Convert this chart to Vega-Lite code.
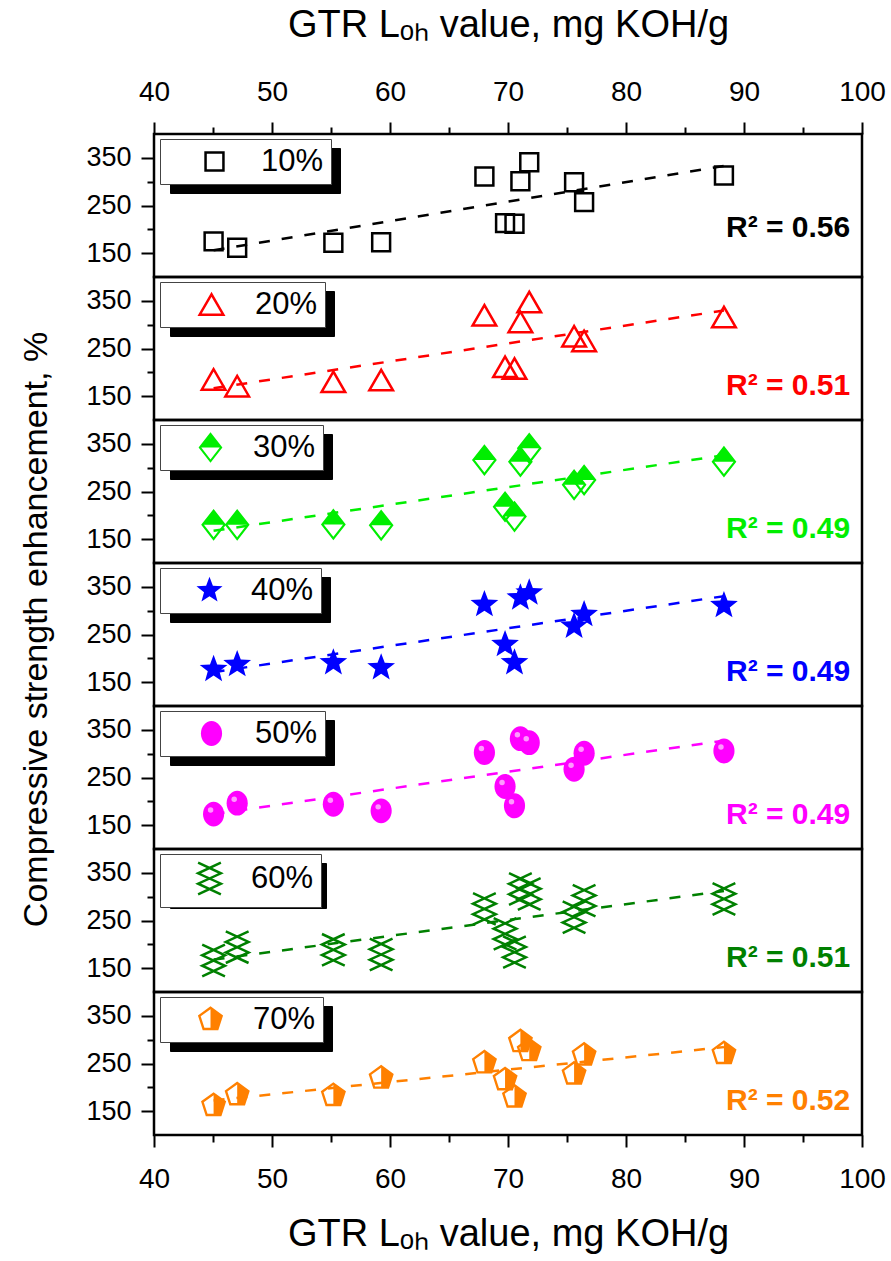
{
  "$schema": "https://vega.github.io/schema/vega-lite/v6.json",
  "padding": {"left": 19, "top": 4, "right": 0, "bottom": 0},
  "background": "white",
  "bounds": "flush",
  "title": {"text": "Compressive strength enhancement, %", "orient": "left", "anchor": "middle", "fontSize": 34, "fontWeight": "normal", "font": "Liberation Sans", "color": "black", "offset": 31},
  "config": {
    "font": "Liberation Sans",
    "view": {"stroke": "black", "strokeWidth": 2.5},
    "axis": {"labelColor": "black", "titleColor": "black", "tickColor": "black", "labelFont": "Liberation Sans", "titleFont": "Liberation Sans"},
    "legend": {"labelFont": "Liberation Sans"}
  },
  "datasets": {
    "pts": [
      {"g": "10%", "x": 45.05, "y": 174.7}, {"g": "10%", "x": 47.05, "y": 161.5}, {"g": "10%", "x": 55.2, "y": 172}, {"g": "10%", "x": 59.25, "y": 173}, {"g": "10%", "x": 68.0, "y": 310.7}, {"g": "10%", "x": 69.75, "y": 213}, {"g": "10%", "x": 70.55, "y": 211.7}, {"g": "10%", "x": 71.05, "y": 300.8}, {"g": "10%", "x": 71.8, "y": 340.6}, {"g": "10%", "x": 75.6, "y": 298.7}, {"g": "10%", "x": 76.45, "y": 257}, {"g": "10%", "x": 88.3, "y": 312.8},
      {"g": "20%", "x": 45.05, "y": 185}, {"g": "20%", "x": 47.05, "y": 171}, {"g": "20%", "x": 55.2, "y": 180}, {"g": "20%", "x": 59.25, "y": 183.7}, {"g": "20%", "x": 68.0, "y": 319.7}, {"g": "20%", "x": 69.75, "y": 211.5}, {"g": "20%", "x": 70.55, "y": 208}, {"g": "20%", "x": 71.05, "y": 305.7}, {"g": "20%", "x": 71.8, "y": 347.5}, {"g": "20%", "x": 75.6, "y": 275.7}, {"g": "20%", "x": 76.45, "y": 265.9}, {"g": "20%", "x": 88.3, "y": 316},
      {"g": "30%", "x": 45.05, "y": 180}, {"g": "30%", "x": 47.05, "y": 180}, {"g": "30%", "x": 55.2, "y": 181}, {"g": "30%", "x": 59.25, "y": 179}, {"g": "30%", "x": 68.0, "y": 316}, {"g": "30%", "x": 69.75, "y": 218}, {"g": "30%", "x": 70.55, "y": 197.5}, {"g": "30%", "x": 71.05, "y": 312.5}, {"g": "30%", "x": 71.8, "y": 340.5}, {"g": "30%", "x": 75.6, "y": 264}, {"g": "30%", "x": 76.45, "y": 274}, {"g": "30%", "x": 88.3, "y": 312.5},
      {"g": "40%", "x": 45.05, "y": 176.8}, {"g": "40%", "x": 47.05, "y": 187}, {"g": "40%", "x": 55.2, "y": 190.8}, {"g": "40%", "x": 59.25, "y": 180.3}, {"g": "40%", "x": 68.0, "y": 312.8}, {"g": "40%", "x": 69.75, "y": 229}, {"g": "40%", "x": 70.55, "y": 190.8}, {"g": "40%", "x": 71.05, "y": 326.8}, {"g": "40%", "x": 71.8, "y": 337.2}, {"g": "40%", "x": 75.6, "y": 267.4}, {"g": "40%", "x": 76.45, "y": 291.8}, {"g": "40%", "x": 88.3, "y": 310.7},
      {"g": "50%", "x": 45.05, "y": 173.2}, {"g": "50%", "x": 47.05, "y": 196.2}, {"g": "50%", "x": 55.2, "y": 194}, {"g": "50%", "x": 59.25, "y": 180}, {"g": "50%", "x": 68.0, "y": 302.3}, {"g": "50%", "x": 69.75, "y": 231.2}, {"g": "50%", "x": 70.55, "y": 190.6}, {"g": "50%", "x": 71.05, "y": 331.5}, {"g": "50%", "x": 71.8, "y": 323.1}, {"g": "50%", "x": 75.6, "y": 267.4}, {"g": "50%", "x": 76.45, "y": 300.8}, {"g": "50%", "x": 88.3, "y": 305.6},
      {"g": "60%", "x": 45.05, "y": 166}, {"g": "60%", "x": 47.05, "y": 194}, {"g": "60%", "x": 55.2, "y": 188.5}, {"g": "60%", "x": 59.25, "y": 178.7}, {"g": "60%", "x": 68.0, "y": 274.3}, {"g": "60%", "x": 69.75, "y": 222}, {"g": "60%", "x": 70.55, "y": 183.7}, {"g": "60%", "x": 71.05, "y": 316}, {"g": "60%", "x": 71.8, "y": 305.6}, {"g": "60%", "x": 75.6, "y": 256.8}, {"g": "60%", "x": 76.45, "y": 291.6}, {"g": "60%", "x": 88.3, "y": 295.2},
      {"g": "70%", "x": 45.05, "y": 162}, {"g": "70%", "x": 47.05, "y": 184.5}, {"g": "70%", "x": 55.2, "y": 183}, {"g": "70%", "x": 59.25, "y": 219.5}, {"g": "70%", "x": 68.0, "y": 251.5}, {"g": "70%", "x": 69.75, "y": 216}, {"g": "70%", "x": 70.55, "y": 179.7}, {"g": "70%", "x": 71.05, "y": 296}, {"g": "70%", "x": 71.8, "y": 277}, {"g": "70%", "x": 75.6, "y": 228}, {"g": "70%", "x": 76.45, "y": 267.8}, {"g": "70%", "x": 88.3, "y": 271}
    ],
    "lab": [
      {"g": "10%", "r2": "R² = 0.56"}, {"g": "20%", "r2": "R² = 0.51"}, {"g": "30%", "r2": "R² = 0.49"}, {"g": "40%", "r2": "R² = 0.49"}, {"g": "50%", "r2": "R² = 0.49"}, {"g": "60%", "r2": "R² = 0.51"}, {"g": "70%", "r2": "R² = 0.52"}
    ]
  },
  "resolve": {"scale": {"shape": "independent", "size": "independent", "x": "independent", "y": "independent"}, "legend": {"shape": "independent", "size": "independent"}},
  "spacing": 0,
  "vconcat": [
    {
      "width": 708, "height": 143,
      "layer": [
        {"data": {"name": "pts"}, "transform": [{"filter": "datum.g == '10%'"}, {"regression": "y", "on": "x"}],
          "mark": {"type": "line", "color": "#000000", "strokeWidth": 2.5, "strokeDash": [11, 12]},
          "encoding": {
            "x": {"field": "x", "type": "quantitative", "scale": {"domain": [40, 100], "nice": false, "zero": false},
              "axis": {"orient": "top", "values": [40,45,50,55,60,65,70,75,80,85,90,95,100], "labelExpr": "datum.value % 10 == 0 ? datum.label : ''", "tickSize": {"condition": {"test": "datum.value % 10 == 0", "value": 12}, "value": 7}, "tickWidth": 2, "domain": false, "grid": false, "labelFontSize": 28, "labelPadding": 16, "labelFlush": false, "labelOverlap": false, "title": "GTR Lₒₕ value, mg KOH/g", "titleFontSize": 38, "titleFontWeight": "normal", "titlePadding": 34}},
            "y": {"field": "y", "type": "quantitative", "scale": {"domain": [100, 400], "nice": false, "zero": false},
              "axis": {"values": [150,200,250,300,350], "labelExpr": "datum.value % 100 == 50 ? datum.label : ''", "tickSize": {"condition": {"test": "datum.value % 100 == 50", "value": 13}, "value": 7}, "tickWidth": 2, "domain": false, "grid": false, "labelFontSize": 27, "labelPadding": 10, "labelOverlap": false, "title": null}}
          }},
        {"data": {"name": "pts"}, "transform": [{"filter": "datum.g == '10%'"}],
          "mark": {"type": "point", "filled": false, "color": "#000000", "size": 320, "strokeWidth": 2.5, "opacity": 1},
          "encoding": {
            "x": {"field": "x", "type": "quantitative", "scale": {"domain": [40, 100], "nice": false, "zero": false},
              "axis": {"orient": "top", "values": [40,45,50,55,60,65,70,75,80,85,90,95,100], "labelExpr": "datum.value % 10 == 0 ? datum.label : ''", "tickSize": {"condition": {"test": "datum.value % 10 == 0", "value": 12}, "value": 7}, "tickWidth": 2, "domain": false, "grid": false, "labelFontSize": 28, "labelPadding": 16, "labelFlush": false, "labelOverlap": false, "title": "GTR Lₒₕ value, mg KOH/g", "titleFontSize": 38, "titleFontWeight": "normal", "titlePadding": 34}},
            "y": {"field": "y", "type": "quantitative", "scale": {"domain": [100, 400], "nice": false, "zero": false},
              "axis": {"values": [150,200,250,300,350], "labelExpr": "datum.value % 100 == 50 ? datum.label : ''", "tickSize": {"condition": {"test": "datum.value % 100 == 50", "value": 13}, "value": 7}, "tickWidth": 2, "domain": false, "grid": false, "labelFontSize": 27, "labelPadding": 10, "labelOverlap": false, "title": null}},
            "shape": {"field": "g", "type": "nominal", "scale": {"range": ["square"]},
              "legend": {"title": null, "orient": "none", "legendX": 6, "legendY": 5, "fillColor": "white", "strokeColor": "#444444", "padding": 7, "symbolOffset": 32, "labelOffset": 31, "labelFontSize": 31, "labelColor": "black", "symbolSize": 320, "symbolStrokeWidth": 2.5, "symbolStrokeColor": "#000000", "symbolFillColor": "transparent", "zindex": 2}}
          }},
        {"data": {"name": "lab"}, "transform": [{"filter": "datum.g == '10%'"}],
          "mark": {"type": "text", "align": "right", "baseline": "middle", "fontWeight": "bold", "color": "#000000"},
          "encoding": {
            "x": {"datum": 99, "type": "quantitative", "scale": {"domain": [40, 100], "nice": false, "zero": false},
              "axis": {"orient": "top", "values": [40,45,50,55,60,65,70,75,80,85,90,95,100], "labelExpr": "datum.value % 10 == 0 ? datum.label : ''", "tickSize": {"condition": {"test": "datum.value % 10 == 0", "value": 12}, "value": 7}, "tickWidth": 2, "domain": false, "grid": false, "labelFontSize": 28, "labelPadding": 16, "labelFlush": false, "labelOverlap": false, "title": "GTR Lₒₕ value, mg KOH/g", "titleFontSize": 38, "titleFontWeight": "normal", "titlePadding": 34}},
            "y": {"datum": 202, "type": "quantitative", "scale": {"domain": [100, 400], "nice": false, "zero": false},
              "axis": {"values": [150,200,250,300,350], "labelExpr": "datum.value % 100 == 50 ? datum.label : ''", "tickSize": {"condition": {"test": "datum.value % 100 == 50", "value": 13}, "value": 7}, "tickWidth": 2, "domain": false, "grid": false, "labelFontSize": 27, "labelPadding": 10, "labelOverlap": false, "title": null}},
            "text": {"field": "r2"},
            "size": {"field": "g", "type": "ordinal", "scale": {"range": [30, 30]},
              "legend": {"title": null, "orient": "none", "legendX": 16, "legendY": 14, "fillColor": "black", "strokeColor": "black", "padding": 7, "symbolOffset": 32, "labelOffset": 93, "labelExpr": "''", "labelFontSize": 31, "labelColor": "black", "symbolFillColor": "black", "symbolStrokeColor": "black", "zindex": 1}}
          }}
      ]
    },
    {
      "width": 708, "height": 143,
      "layer": [
        {"data": {"name": "pts"}, "transform": [{"filter": "datum.g == '20%'"}, {"regression": "y", "on": "x"}],
          "mark": {"type": "line", "color": "#ff0000", "strokeWidth": 2.5, "strokeDash": [11, 12]},
          "encoding": {
            "x": {"field": "x", "type": "quantitative", "scale": {"domain": [40, 100], "nice": false, "zero": false}, "axis": null},
            "y": {"field": "y", "type": "quantitative", "scale": {"domain": [100, 400], "nice": false, "zero": false},
              "axis": {"values": [150,200,250,300,350], "labelExpr": "datum.value % 100 == 50 ? datum.label : ''", "tickSize": {"condition": {"test": "datum.value % 100 == 50", "value": 13}, "value": 7}, "tickWidth": 2, "domain": false, "grid": false, "labelFontSize": 27, "labelPadding": 10, "labelOverlap": false, "title": null}}
          }},
        {"data": {"name": "pts"}, "transform": [{"filter": "datum.g == '20%'"}],
          "mark": {"type": "point", "filled": false, "color": "#ff0000", "size": 560, "strokeWidth": 2.5, "opacity": 1},
          "encoding": {
            "x": {"field": "x", "type": "quantitative", "scale": {"domain": [40, 100], "nice": false, "zero": false}, "axis": null},
            "y": {"field": "y", "type": "quantitative", "scale": {"domain": [100, 400], "nice": false, "zero": false},
              "axis": {"values": [150,200,250,300,350], "labelExpr": "datum.value % 100 == 50 ? datum.label : ''", "tickSize": {"condition": {"test": "datum.value % 100 == 50", "value": 13}, "value": 7}, "tickWidth": 2, "domain": false, "grid": false, "labelFontSize": 27, "labelPadding": 10, "labelOverlap": false, "title": null}},
            "shape": {"field": "g", "type": "nominal", "scale": {"range": ["triangle-up"]},
              "legend": {"title": null, "orient": "none", "legendX": 6, "legendY": 5, "fillColor": "white", "strokeColor": "#444444", "padding": 7, "symbolOffset": 29, "labelOffset": 28, "labelFontSize": 31, "labelColor": "black", "symbolSize": 560, "symbolStrokeWidth": 2.5, "symbolStrokeColor": "#ff0000", "symbolFillColor": "transparent", "zindex": 2}}
          }},
        {"data": {"name": "lab"}, "transform": [{"filter": "datum.g == '20%'"}],
          "mark": {"type": "text", "align": "right", "baseline": "middle", "fontWeight": "bold", "color": "#ff0000"},
          "encoding": {
            "x": {"datum": 99, "type": "quantitative", "scale": {"domain": [40, 100], "nice": false, "zero": false}, "axis": null},
            "y": {"datum": 172, "type": "quantitative", "scale": {"domain": [100, 400], "nice": false, "zero": false},
              "axis": {"values": [150,200,250,300,350], "labelExpr": "datum.value % 100 == 50 ? datum.label : ''", "tickSize": {"condition": {"test": "datum.value % 100 == 50", "value": 13}, "value": 7}, "tickWidth": 2, "domain": false, "grid": false, "labelFontSize": 27, "labelPadding": 10, "labelOverlap": false, "title": null}},
            "text": {"field": "r2"},
            "size": {"field": "g", "type": "ordinal", "scale": {"range": [30, 30]},
              "legend": {"title": null, "orient": "none", "legendX": 16, "legendY": 14, "fillColor": "black", "strokeColor": "black", "padding": 7, "symbolOffset": 29, "labelOffset": 90, "labelExpr": "''", "labelFontSize": 31, "labelColor": "black", "symbolFillColor": "black", "symbolStrokeColor": "black", "zindex": 1}}
          }}
      ]
    },
    {
      "width": 708, "height": 143,
      "layer": [
        {"data": {"name": "pts"}, "transform": [{"filter": "datum.g == '30%'"}, {"regression": "y", "on": "x"}],
          "mark": {"type": "line", "color": "#00ee00", "strokeWidth": 2.5, "strokeDash": [11, 12]},
          "encoding": {
            "x": {"field": "x", "type": "quantitative", "scale": {"domain": [40, 100], "nice": false, "zero": false}, "axis": null},
            "y": {"field": "y", "type": "quantitative", "scale": {"domain": [100, 400], "nice": false, "zero": false},
              "axis": {"values": [150,200,250,300,350], "labelExpr": "datum.value % 100 == 50 ? datum.label : ''", "tickSize": {"condition": {"test": "datum.value % 100 == 50", "value": 13}, "value": 7}, "tickWidth": 2, "domain": false, "grid": false, "labelFontSize": 27, "labelPadding": 10, "labelOverlap": false, "title": null}}
          }},
        {"data": {"name": "pts"}, "transform": [{"filter": "datum.g == '30%'"}],
          "mark": {"type": "point", "filled": true, "color": "#00ee00", "size": 760, "strokeWidth": 0, "opacity": 1},
          "encoding": {
            "x": {"field": "x", "type": "quantitative", "scale": {"domain": [40, 100], "nice": false, "zero": false}, "axis": null},
            "y": {"field": "y", "type": "quantitative", "scale": {"domain": [100, 400], "nice": false, "zero": false},
              "axis": {"values": [150,200,250,300,350], "labelExpr": "datum.value % 100 == 50 ? datum.label : ''", "tickSize": {"condition": {"test": "datum.value % 100 == 50", "value": 13}, "value": 7}, "tickWidth": 2, "domain": false, "grid": false, "labelFontSize": 27, "labelPadding": 10, "labelOverlap": false, "title": null}},
            "shape": {"field": "g", "type": "nominal", "scale": {"range": ["M0,-1.15L0.9,0L0,1.15L-0.9,0ZM0,-0.9L-0.7,0L0,0.9L0.7,0ZM0,-0.9L0.7,0L-0.7,0Z"]},
              "legend": {"title": null, "orient": "none", "legendX": 6, "legendY": 5, "fillColor": "white", "strokeColor": "#444444", "padding": 7, "symbolOffset": 28, "labelOffset": 27, "labelFontSize": 31, "labelColor": "black", "symbolSize": 700, "symbolStrokeWidth": 0, "symbolFillColor": "#00ee00", "zindex": 2}}
          }},
        {"data": {"name": "lab"}, "transform": [{"filter": "datum.g == '30%'"}],
          "mark": {"type": "text", "align": "right", "baseline": "middle", "fontWeight": "bold", "color": "#00ee00"},
          "encoding": {
            "x": {"datum": 99, "type": "quantitative", "scale": {"domain": [40, 100], "nice": false, "zero": false}, "axis": null},
            "y": {"datum": 172, "type": "quantitative", "scale": {"domain": [100, 400], "nice": false, "zero": false},
              "axis": {"values": [150,200,250,300,350], "labelExpr": "datum.value % 100 == 50 ? datum.label : ''", "tickSize": {"condition": {"test": "datum.value % 100 == 50", "value": 13}, "value": 7}, "tickWidth": 2, "domain": false, "grid": false, "labelFontSize": 27, "labelPadding": 10, "labelOverlap": false, "title": null}},
            "text": {"field": "r2"},
            "size": {"field": "g", "type": "ordinal", "scale": {"range": [30, 30]},
              "legend": {"title": null, "orient": "none", "legendX": 16, "legendY": 14, "fillColor": "black", "strokeColor": "black", "padding": 7, "symbolOffset": 28, "labelOffset": 89, "labelExpr": "''", "labelFontSize": 31, "labelColor": "black", "symbolFillColor": "black", "symbolStrokeColor": "black", "zindex": 1}}
          }}
      ]
    },
    {
      "width": 708, "height": 143,
      "layer": [
        {"data": {"name": "pts"}, "transform": [{"filter": "datum.g == '40%'"}, {"regression": "y", "on": "x"}],
          "mark": {"type": "line", "color": "#0000ff", "strokeWidth": 2.5, "strokeDash": [11, 12]},
          "encoding": {
            "x": {"field": "x", "type": "quantitative", "scale": {"domain": [40, 100], "nice": false, "zero": false}, "axis": null},
            "y": {"field": "y", "type": "quantitative", "scale": {"domain": [100, 400], "nice": false, "zero": false},
              "axis": {"values": [150,200,250,300,350], "labelExpr": "datum.value % 100 == 50 ? datum.label : ''", "tickSize": {"condition": {"test": "datum.value % 100 == 50", "value": 13}, "value": 7}, "tickWidth": 2, "domain": false, "grid": false, "labelFontSize": 27, "labelPadding": 10, "labelOverlap": false, "title": null}}
          }},
        {"data": {"name": "pts"}, "transform": [{"filter": "datum.g == '40%'"}],
          "mark": {"type": "point", "filled": true, "color": "#0000ff", "size": 850, "strokeWidth": 0, "opacity": 1},
          "encoding": {
            "x": {"field": "x", "type": "quantitative", "scale": {"domain": [40, 100], "nice": false, "zero": false}, "axis": null},
            "y": {"field": "y", "type": "quantitative", "scale": {"domain": [100, 400], "nice": false, "zero": false},
              "axis": {"values": [150,200,250,300,350], "labelExpr": "datum.value % 100 == 50 ? datum.label : ''", "tickSize": {"condition": {"test": "datum.value % 100 == 50", "value": 13}, "value": 7}, "tickWidth": 2, "domain": false, "grid": false, "labelFontSize": 27, "labelPadding": 10, "labelOverlap": false, "title": null}},
            "shape": {"field": "g", "type": "nominal", "scale": {"range": ["M0,-1L0.247,-0.34L0.951,-0.309L0.399,0.13L0.588,0.809L0,0.42L-0.588,0.809L-0.399,0.13L-0.951,-0.309L-0.247,-0.34Z"]},
              "legend": {"title": null, "orient": "none", "legendX": 6, "legendY": 5, "fillColor": "white", "strokeColor": "#444444", "padding": 7, "symbolOffset": 27, "labelOffset": 26, "labelFontSize": 31, "labelColor": "black", "symbolSize": 750, "symbolStrokeWidth": 0, "symbolFillColor": "#0000ff", "zindex": 2}}
          }},
        {"data": {"name": "lab"}, "transform": [{"filter": "datum.g == '40%'"}],
          "mark": {"type": "text", "align": "right", "baseline": "middle", "fontWeight": "bold", "color": "#0000ff"},
          "encoding": {
            "x": {"datum": 99, "type": "quantitative", "scale": {"domain": [40, 100], "nice": false, "zero": false}, "axis": null},
            "y": {"datum": 172, "type": "quantitative", "scale": {"domain": [100, 400], "nice": false, "zero": false},
              "axis": {"values": [150,200,250,300,350], "labelExpr": "datum.value % 100 == 50 ? datum.label : ''", "tickSize": {"condition": {"test": "datum.value % 100 == 50", "value": 13}, "value": 7}, "tickWidth": 2, "domain": false, "grid": false, "labelFontSize": 27, "labelPadding": 10, "labelOverlap": false, "title": null}},
            "text": {"field": "r2"},
            "size": {"field": "g", "type": "ordinal", "scale": {"range": [30, 30]},
              "legend": {"title": null, "orient": "none", "legendX": 16, "legendY": 14, "fillColor": "black", "strokeColor": "black", "padding": 7, "symbolOffset": 27, "labelOffset": 88, "labelExpr": "''", "labelFontSize": 31, "labelColor": "black", "symbolFillColor": "black", "symbolStrokeColor": "black", "zindex": 1}}
          }}
      ]
    },
    {
      "width": 708, "height": 143,
      "layer": [
        {"data": {"name": "pts"}, "transform": [{"filter": "datum.g == '50%'"}, {"regression": "y", "on": "x"}],
          "mark": {"type": "line", "color": "#ff00ff", "strokeWidth": 2.5, "strokeDash": [11, 12]},
          "encoding": {
            "x": {"field": "x", "type": "quantitative", "scale": {"domain": [40, 100], "nice": false, "zero": false}, "axis": null},
            "y": {"field": "y", "type": "quantitative", "scale": {"domain": [100, 400], "nice": false, "zero": false},
              "axis": {"values": [150,200,250,300,350], "labelExpr": "datum.value % 100 == 50 ? datum.label : ''", "tickSize": {"condition": {"test": "datum.value % 100 == 50", "value": 13}, "value": 7}, "tickWidth": 2, "domain": false, "grid": false, "labelFontSize": 27, "labelPadding": 10, "labelOverlap": false, "title": null}}
          }},
        {"data": {"name": "pts"}, "transform": [{"filter": "datum.g == '50%'"}],
          "mark": {"type": "point", "filled": true, "color": "#ff00ff", "size": 620, "strokeWidth": 0, "opacity": 1},
          "encoding": {
            "x": {"field": "x", "type": "quantitative", "scale": {"domain": [40, 100], "nice": false, "zero": false}, "axis": null},
            "y": {"field": "y", "type": "quantitative", "scale": {"domain": [100, 400], "nice": false, "zero": false},
              "axis": {"values": [150,200,250,300,350], "labelExpr": "datum.value % 100 == 50 ? datum.label : ''", "tickSize": {"condition": {"test": "datum.value % 100 == 50", "value": 13}, "value": 7}, "tickWidth": 2, "domain": false, "grid": false, "labelFontSize": 27, "labelPadding": 10, "labelOverlap": false, "title": null}},
            "shape": {"field": "g", "type": "nominal", "scale": {"range": ["M0,-1A0.85,1,0,1,1,0,1A0.85,1,0,1,1,0,-1Z"]},
              "legend": {"title": null, "orient": "none", "legendX": 6, "legendY": 5, "fillColor": "white", "strokeColor": "#444444", "padding": 7, "symbolOffset": 29, "labelOffset": 28, "labelFontSize": 31, "labelColor": "black", "symbolSize": 620, "symbolStrokeWidth": 0, "symbolFillColor": "#ff00ff", "zindex": 2}}
          }},
        {"data": {"name": "pts"}, "transform": [{"filter": "datum.g == '50%'"}],
          "mark": {"type": "point", "filled": true, "color": "#ffaaff", "size": 30, "strokeWidth": 0, "opacity": 0.9, "xOffset": -3, "yOffset": -4, "shape": "circle"},
          "encoding": {
            "x": {"field": "x", "type": "quantitative", "scale": {"domain": [40, 100], "nice": false, "zero": false}, "axis": null},
            "y": {"field": "y", "type": "quantitative", "scale": {"domain": [100, 400], "nice": false, "zero": false},
              "axis": {"values": [150,200,250,300,350], "labelExpr": "datum.value % 100 == 50 ? datum.label : ''", "tickSize": {"condition": {"test": "datum.value % 100 == 50", "value": 13}, "value": 7}, "tickWidth": 2, "domain": false, "grid": false, "labelFontSize": 27, "labelPadding": 10, "labelOverlap": false, "title": null}}
          }},
        {"data": {"name": "lab"}, "transform": [{"filter": "datum.g == '50%'"}],
          "mark": {"type": "text", "align": "right", "baseline": "middle", "fontWeight": "bold", "color": "#ff00ff"},
          "encoding": {
            "x": {"datum": 99, "type": "quantitative", "scale": {"domain": [40, 100], "nice": false, "zero": false}, "axis": null},
            "y": {"datum": 172, "type": "quantitative", "scale": {"domain": [100, 400], "nice": false, "zero": false},
              "axis": {"values": [150,200,250,300,350], "labelExpr": "datum.value % 100 == 50 ? datum.label : ''", "tickSize": {"condition": {"test": "datum.value % 100 == 50", "value": 13}, "value": 7}, "tickWidth": 2, "domain": false, "grid": false, "labelFontSize": 27, "labelPadding": 10, "labelOverlap": false, "title": null}},
            "text": {"field": "r2"},
            "size": {"field": "g", "type": "ordinal", "scale": {"range": [30, 30]},
              "legend": {"title": null, "orient": "none", "legendX": 16, "legendY": 14, "fillColor": "black", "strokeColor": "black", "padding": 7, "symbolOffset": 29, "labelOffset": 90, "labelExpr": "''", "labelFontSize": 31, "labelColor": "black", "symbolFillColor": "black", "symbolStrokeColor": "black", "zindex": 1}}
          }}
      ]
    },
    {
      "width": 708, "height": 143,
      "layer": [
        {"data": {"name": "pts"}, "transform": [{"filter": "datum.g == '60%'"}, {"regression": "y", "on": "x"}],
          "mark": {"type": "line", "color": "#008000", "strokeWidth": 2.5, "strokeDash": [11, 12]},
          "encoding": {
            "x": {"field": "x", "type": "quantitative", "scale": {"domain": [40, 100], "nice": false, "zero": false}, "axis": null},
            "y": {"field": "y", "type": "quantitative", "scale": {"domain": [100, 400], "nice": false, "zero": false},
              "axis": {"values": [150,200,250,300,350], "labelExpr": "datum.value % 100 == 50 ? datum.label : ''", "tickSize": {"condition": {"test": "datum.value % 100 == 50", "value": 13}, "value": 7}, "tickWidth": 2, "domain": false, "grid": false, "labelFontSize": 27, "labelPadding": 10, "labelOverlap": false, "title": null}}
          }},
        {"data": {"name": "pts"}, "transform": [{"filter": "datum.g == '60%'"}],
          "mark": {"type": "point", "filled": false, "color": "#008000", "size": 1000, "strokeWidth": 2.5, "opacity": 1},
          "encoding": {
            "x": {"field": "x", "type": "quantitative", "scale": {"domain": [40, 100], "nice": false, "zero": false}, "axis": null},
            "y": {"field": "y", "type": "quantitative", "scale": {"domain": [100, 400], "nice": false, "zero": false},
              "axis": {"values": [150,200,250,300,350], "labelExpr": "datum.value % 100 == 50 ? datum.label : ''", "tickSize": {"condition": {"test": "datum.value % 100 == 50", "value": 13}, "value": 7}, "tickWidth": 2, "domain": false, "grid": false, "labelFontSize": 27, "labelPadding": 10, "labelOverlap": false, "title": null}},
            "shape": {"field": "g", "type": "nominal", "scale": {"range": ["M-0.72,-1L0.72,-0.33L-0.72,0.33L0.72,1M0.72,-1L-0.72,-0.33L0.72,0.33L-0.72,1"]},
              "legend": {"title": null, "orient": "none", "legendX": 6, "legendY": 5, "fillColor": "white", "strokeColor": "#444444", "padding": 7, "symbolOffset": 25, "labelOffset": 24, "labelFontSize": 31, "labelColor": "black", "symbolSize": 1000, "symbolStrokeWidth": 2.5, "symbolStrokeColor": "#008000", "symbolFillColor": "transparent", "zindex": 2}}
          }},
        {"data": {"name": "lab"}, "transform": [{"filter": "datum.g == '60%'"}],
          "mark": {"type": "text", "align": "right", "baseline": "middle", "fontWeight": "bold", "color": "#008000"},
          "encoding": {
            "x": {"datum": 99, "type": "quantitative", "scale": {"domain": [40, 100], "nice": false, "zero": false}, "axis": null},
            "y": {"datum": 172, "type": "quantitative", "scale": {"domain": [100, 400], "nice": false, "zero": false},
              "axis": {"values": [150,200,250,300,350], "labelExpr": "datum.value % 100 == 50 ? datum.label : ''", "tickSize": {"condition": {"test": "datum.value % 100 == 50", "value": 13}, "value": 7}, "tickWidth": 2, "domain": false, "grid": false, "labelFontSize": 27, "labelPadding": 10, "labelOverlap": false, "title": null}},
            "text": {"field": "r2"},
            "size": {"field": "g", "type": "ordinal", "scale": {"range": [30, 30]},
              "legend": {"title": null, "orient": "none", "legendX": 16, "legendY": 14, "fillColor": "black", "strokeColor": "black", "padding": 7, "symbolOffset": 25, "labelOffset": 86, "labelExpr": "''", "labelFontSize": 31, "labelColor": "black", "symbolFillColor": "black", "symbolStrokeColor": "black", "zindex": 1}}
          }}
      ]
    },
    {
      "width": 708, "height": 143,
      "layer": [
        {"data": {"name": "pts"}, "transform": [{"filter": "datum.g == '70%'"}, {"regression": "y", "on": "x"}],
          "mark": {"type": "line", "color": "#ff8000", "strokeWidth": 2.5, "strokeDash": [11, 12]},
          "encoding": {
            "x": {"field": "x", "type": "quantitative", "scale": {"domain": [40, 100], "nice": false, "zero": false},
              "axis": {"orient": "bottom", "values": [40,45,50,55,60,65,70,75,80,85,90,95,100], "labelExpr": "datum.value % 10 == 0 ? datum.label : ''", "tickSize": {"condition": {"test": "datum.value % 10 == 0", "value": 12}, "value": 7}, "tickWidth": 2, "domain": false, "grid": false, "labelFontSize": 28, "labelPadding": 18, "labelFlush": false, "labelOverlap": false, "title": "GTR Lₒₕ value, mg KOH/g", "titleFontSize": 38, "titleFontWeight": "normal", "titlePadding": 22}},
            "y": {"field": "y", "type": "quantitative", "scale": {"domain": [100, 400], "nice": false, "zero": false},
              "axis": {"values": [150,200,250,300,350], "labelExpr": "datum.value % 100 == 50 ? datum.label : ''", "tickSize": {"condition": {"test": "datum.value % 100 == 50", "value": 13}, "value": 7}, "tickWidth": 2, "domain": false, "grid": false, "labelFontSize": 27, "labelPadding": 10, "labelOverlap": false, "title": null}}
          }},
        {"data": {"name": "pts"}, "transform": [{"filter": "datum.g == '70%'"}],
          "mark": {"type": "point", "filled": true, "color": "#ff8000", "size": 700, "strokeWidth": 0, "opacity": 1},
          "encoding": {
            "x": {"field": "x", "type": "quantitative", "scale": {"domain": [40, 100], "nice": false, "zero": false},
              "axis": {"orient": "bottom", "values": [40,45,50,55,60,65,70,75,80,85,90,95,100], "labelExpr": "datum.value % 10 == 0 ? datum.label : ''", "tickSize": {"condition": {"test": "datum.value % 10 == 0", "value": 12}, "value": 7}, "tickWidth": 2, "domain": false, "grid": false, "labelFontSize": 28, "labelPadding": 18, "labelFlush": false, "labelOverlap": false, "title": "GTR Lₒₕ value, mg KOH/g", "titleFontSize": 38, "titleFontWeight": "normal", "titlePadding": 22}},
            "y": {"field": "y", "type": "quantitative", "scale": {"domain": [100, 400], "nice": false, "zero": false},
              "axis": {"values": [150,200,250,300,350], "labelExpr": "datum.value % 100 == 50 ? datum.label : ''", "tickSize": {"condition": {"test": "datum.value % 100 == 50", "value": 13}, "value": 7}, "tickWidth": 2, "domain": false, "grid": false, "labelFontSize": 27, "labelPadding": 10, "labelOverlap": false, "title": null}},
            "shape": {"field": "g", "type": "nominal", "scale": {"range": ["M0,-1L0.951,-0.309L0.588,0.809L-0.588,0.809L-0.951,-0.309ZM0,-0.78L-0.742,-0.241L-0.459,0.631L0.459,0.631L0.742,-0.241ZM0,-0.78L0.742,-0.241L0.459,0.631L0,0.631Z"]},
              "legend": {"title": null, "orient": "none", "legendX": 6, "legendY": 5, "fillColor": "white", "strokeColor": "#444444", "padding": 7, "symbolOffset": 28, "labelOffset": 27, "labelFontSize": 31, "labelColor": "black", "symbolSize": 700, "symbolStrokeWidth": 0, "symbolFillColor": "#ff8000", "zindex": 2}}
          }},
        {"data": {"name": "lab"}, "transform": [{"filter": "datum.g == '70%'"}],
          "mark": {"type": "text", "align": "right", "baseline": "middle", "fontWeight": "bold", "color": "#ff8000"},
          "encoding": {
            "x": {"datum": 99, "type": "quantitative", "scale": {"domain": [40, 100], "nice": false, "zero": false},
              "axis": {"orient": "bottom", "values": [40,45,50,55,60,65,70,75,80,85,90,95,100], "labelExpr": "datum.value % 10 == 0 ? datum.label : ''", "tickSize": {"condition": {"test": "datum.value % 10 == 0", "value": 12}, "value": 7}, "tickWidth": 2, "domain": false, "grid": false, "labelFontSize": 28, "labelPadding": 18, "labelFlush": false, "labelOverlap": false, "title": "GTR Lₒₕ value, mg KOH/g", "titleFontSize": 38, "titleFontWeight": "normal", "titlePadding": 22}},
            "y": {"datum": 172, "type": "quantitative", "scale": {"domain": [100, 400], "nice": false, "zero": false},
              "axis": {"values": [150,200,250,300,350], "labelExpr": "datum.value % 100 == 50 ? datum.label : ''", "tickSize": {"condition": {"test": "datum.value % 100 == 50", "value": 13}, "value": 7}, "tickWidth": 2, "domain": false, "grid": false, "labelFontSize": 27, "labelPadding": 10, "labelOverlap": false, "title": null}},
            "text": {"field": "r2"},
            "size": {"field": "g", "type": "ordinal", "scale": {"range": [30, 30]},
              "legend": {"title": null, "orient": "none", "legendX": 16, "legendY": 14, "fillColor": "black", "strokeColor": "black", "padding": 7, "symbolOffset": 28, "labelOffset": 89, "labelExpr": "''", "labelFontSize": 31, "labelColor": "black", "symbolFillColor": "black", "symbolStrokeColor": "black", "zindex": 1}}
          }}
      ]
    }
  ]
}
